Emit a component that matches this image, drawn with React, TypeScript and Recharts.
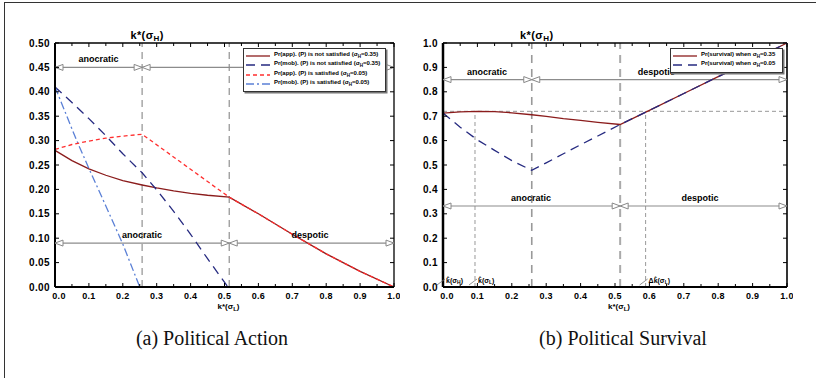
import React from 'react';
import { ComposedChart, Line, XAxis, YAxis, ReferenceLine, ReferenceDot, Legend } from 'recharts';

type Pt = [number, number];

// (a) Political Action: probabilities against k*(σL)
const appNotSatisfied: Pt[] = [
  [0, 0.28], [0.05, 0.259], [0.1, 0.242], [0.15, 0.229], [0.2, 0.218], [0.257, 0.209],
  [0.3, 0.203], [0.35, 0.197], [0.4, 0.192], [0.45, 0.188], [0.514, 0.184],
  [0.6, 0.15], [0.7, 0.108], [0.8, 0.068], [0.9, 0.032], [1, 0],
];
const mobNotSatisfied: Pt[] = [
  [0, 0.41], [0.05, 0.378], [0.1, 0.345], [0.15, 0.31], [0.2, 0.273], [0.257, 0.234],
  [0.3, 0.199], [0.35, 0.155], [0.4, 0.108], [0.45, 0.058], [0.51, 0], [1, 0],
];
const appSatisfied: Pt[] = [
  [0, 0.282], [0.05, 0.292], [0.1, 0.299], [0.15, 0.305], [0.2, 0.309], [0.257, 0.313],
  [0.514, 0.184], [0.6, 0.15], [0.7, 0.108], [0.8, 0.068], [0.9, 0.032], [1, 0],
];
const mobSatisfied: Pt[] = [
  [0, 0.41], [0.064, 0.3], [0.1, 0.243], [0.15, 0.166], [0.2, 0.088], [0.25, 0], [1, 0],
];

// (b) Political Survival
const survivalHigh: Pt[] = [
  [0, 0.713], [0.05, 0.718], [0.1, 0.72], [0.15, 0.719], [0.2, 0.714], [0.258, 0.706],
  [0.3, 0.699], [0.35, 0.69], [0.4, 0.683], [0.45, 0.675], [0.515, 0.666],
  [0.6, 0.724], [0.7, 0.793], [0.8, 0.862], [0.9, 0.931], [1, 1],
];
const survivalLow: Pt[] = [
  [0, 0.713], [0.05, 0.655], [0.1, 0.603], [0.15, 0.56], [0.2, 0.518], [0.258, 0.478],
  [0.3, 0.509], [0.35, 0.546], [0.4, 0.583], [0.45, 0.619], [0.515, 0.666],
  [0.6, 0.724], [0.7, 0.793], [0.8, 0.862], [0.9, 0.931], [1, 1],
];

const kTicks = [0, 0.05, 0.1, 0.15, 0.2, 0.25, 0.3, 0.35, 0.4, 0.45, 0.5, 0.55, 0.6, 0.65, 0.7, 0.75, 0.8, 0.85, 0.9, 0.95, 1];
const actionTicks = [0, 0.05, 0.1, 0.15, 0.2, 0.25, 0.3, 0.35, 0.4, 0.45, 0.5];
const survivalTicks = [0, 0.1, 0.2, 0.3, 0.4, 0.5, 0.6, 0.7, 0.8, 0.9, 1];

// thresholds
const actionKH = 0.257;
const actionKL = 0.514;
const survKH = 0.258;
const survKL = 0.515;
const survKHatL = 0.093;
const survDeltaK = 0.589;
const survBar = 0.72;

const actionArrows = [
  { y: 0.45, from: 0, to: actionKH, label: 'anocratic', at: 0.128 },
  { y: 0.45, from: actionKH, to: 1, label: '', at: 0 },
  { y: 0.09, from: 0, to: actionKL, label: 'anocratic', at: 0.257 },
  { y: 0.09, from: actionKL, to: 1, label: 'despotic', at: 0.752 },
];
const survivalArrows = [
  { y: 0.85, from: 0, to: survKH, label: 'anocratic', at: 0.128 },
  { y: 0.85, from: survKH, to: 1, label: 'despotic', at: 0.62 },
  { y: 0.332, from: 0, to: survKL, label: 'anocratic', at: 0.256 },
  { y: 0.332, from: survKL, to: 1, label: 'despotic', at: 0.747 },
];
const survivalMarks = [
  { k: 0, text: 'k\u0302(σ', sub: 'H' },
  { k: survKHatL, text: 'k\u0302(σ', sub: 'L' },
  { k: survDeltaK, text: 'Δk\u0302(σ', sub: 'L' },
];

const actionSeries = [
  { name: 'Pr(app). (P) is not satisfied', sigma: '0.35', data: appNotSatisfied, color: '#8b1c1c', dash: undefined },
  { name: 'Pr(mob). (P) is not satisfied', sigma: '0.35', data: mobNotSatisfied, color: '#262a80', dash: '9 6' },
  { name: 'Pr(mob). (P) is satisfied', sigma: '0.05', data: mobSatisfied, color: '#5b80d6', dash: '8 3 2 3' },
  { name: 'Pr(app). (P) is satisfied', sigma: '0.05', data: appSatisfied, color: '#ff2f2f', dash: '4 3' },
];
const actionLegendOrder = [0, 1, 3, 2];
const survivalSeries = [
  { name: 'Pr(survival) when', sigma: '0.35', data: survivalHigh, color: '#8b1c1c', dash: undefined },
  { name: 'Pr(survival) when', sigma: '0.05', data: survivalLow, color: '#262a80', dash: '9 6' },
];

const FONT = '"Liberation Sans", Arial, sans-serif';
const toRows = (pts: Pt[]) => pts.map(([k, p]) => ({ k, p }));

function XTick(props: any) {
  const { x, y, payload } = props;
  const v = payload.value as number;
  const major = Math.round(v * 100) % 10 === 0;
  return (
    <g>
      <line x1={x} x2={x} y1={y} y2={y - (major ? 4 : 3)} stroke="#000" strokeWidth={1} />
      {major && (
        <text x={x + (v === 0 ? 4 : 0)} y={y + 12} textAnchor="middle" fontSize={9} fontWeight="bold" fontFamily={FONT} letterSpacing={0.3}>
          {v.toFixed(1)}
        </text>
      )}
    </g>
  );
}

function YTick(props: any) {
  const { x, y, payload, digits } = props;
  return (
    <g>
      <line x1={x} x2={x + 4} y1={y} y2={y} stroke="#000" strokeWidth={1} />
      <text x={x - 5} y={y} dy={3.5} textAnchor="end" fontSize={10} fontWeight="bold" fontFamily={FONT} letterSpacing={0.4}>
        {(payload.value as number).toFixed(digits)}
      </text>
    </g>
  );
}

function KStarTop(props: any) {
  const { x, y } = props.viewBox;
  return (
    <text x={x + 5} y={y - 4} textAnchor="middle" fontSize={11} fontWeight="bold" fontFamily={FONT} letterSpacing={0.4}>
      k*(σ<tspan fontSize={8} dy={2}>H</tspan><tspan dy={-2}>)</tspan>
    </text>
  );
}

function KStarBottom(props: any) {
  const { x, y, width } = props.viewBox;
  return (
    <text x={x + width / 2 + 4} y={y + 22} textAnchor="middle" fontSize={8} fontWeight="bold" fontFamily={FONT}>
      k*(σ<tspan fontSize={6} dy={1.5}>L</tspan><tspan dy={-1.5}>)</tspan>
    </text>
  );
}

const arrowHead = (dir: number) => (p: any) => (
  <path
    d={`M${p.cx},${p.cy} L${p.cx - dir * 8},${p.cy - 3} L${p.cx - dir * 8},${p.cy + 3} Z`}
    fill="#fff"
    stroke="#888"
    strokeWidth={1}
  />
);

const regimeText = (label: string) => (p: any) => (
  <text x={p.cx} y={p.cy - 5} textAnchor="middle" fontSize={9} fontWeight="bold" fontFamily={FONT}>
    {label}
  </text>
);

function renderArrows(arrows: typeof actionArrows, id: string) {
  return arrows.flatMap((a, i) => {
    const out = [
      <ReferenceLine key={`${id}s${i}`} segment={[{ x: a.from, y: a.y }, { x: a.to, y: a.y }]} stroke="#8c8c8c" strokeWidth={1.2} />,
      <ReferenceDot key={`${id}l${i}`} x={a.from} y={a.y} r={0} shape={arrowHead(-1)} />,
      <ReferenceDot key={`${id}r${i}`} x={a.to} y={a.y} r={0} shape={arrowHead(1)} />,
    ];
    if (a.label) out.push(<ReferenceDot key={`${id}t${i}`} x={a.at} y={a.y} r={0} shape={regimeText(a.label)} />);
    return out;
  });
}

// top and right edges of the frame, drawn as plain lines along the domain edges,
// with the inward tick marks as their dots
function renderFrame(yMax: number, yTicks: number[], rightWidth: number, id: string) {
  const topRows = kTicks.map((k) => ({ k, p: yMax }));
  const rightRows = yTicks.map((t) => ({ k: 1, p: t }));
  return [
    <Line
      key={`${id}top`}
      data={topRows}
      dataKey="p"
      type="linear"
      stroke="#000"
      strokeWidth={1.4}
      legendType="none"
      activeDot={false}
      isAnimationActive={false}
      dot={(p: any) => (
        <line
          key={`${id}td${p.index}`}
          x1={p.cx}
          x2={p.cx}
          y1={p.cy}
          y2={p.cy + (Math.round((p.payload.k as number) * 100) % 10 === 0 ? 4 : 3)}
          stroke="#000"
          strokeWidth={1}
        />
      )}
    />,
    <Line
      key={`${id}right`}
      data={rightRows}
      dataKey="p"
      type="linear"
      stroke="#000"
      strokeWidth={rightWidth}
      legendType="none"
      activeDot={false}
      isAnimationActive={false}
      dot={(p: any) => (
        <line key={`${id}rd${p.index}`} x1={p.cx} x2={p.cx - 4} y1={p.cy} y2={p.cy} stroke="#000" strokeWidth={1} />
      )}
    />,
  ];
}

function LegendBox({ series, order, width }: { series: typeof actionSeries; order: number[]; width: number }) {
  return (
    <div
      style={{
        width,
        border: '1px solid #333',
        boxShadow: '1.5px 1.5px 0 #777',
        background: '#fff',
        padding: '2px 2px',
        boxSizing: 'border-box',
        fontFamily: FONT,
        fontWeight: 'bold',
        fontSize: 6,
        lineHeight: '7.3px',
      }}
    >
      {order.map((idx) => {
        const s = series[idx];
        const survival = s.name.startsWith('Pr(survival)');
        return (
          <div key={idx} style={{ display: 'flex', alignItems: 'center', whiteSpace: 'nowrap' }}>
            <svg width={24} height={6} style={{ flex: 'none', marginRight: 4 }}>
              <line x1={0} x2={24} y1={3} y2={3} stroke={s.color} strokeWidth={1.3} strokeDasharray={s.dash} />
            </svg>
            <span>
              {s.name} {survival ? '' : '('}σ<sub style={{ fontSize: 4.5 }}>H</sub>={s.sigma}
              {survival ? '' : ')'}
            </span>
          </div>
        );
      })}
    </div>
  );
}

function ActionChart() {
  return (
    <ComposedChart width={400} height={320} margin={{ top: 43, right: 6, bottom: 0, left: 0 }}>
      <XAxis
        dataKey="k" type="number" domain={[0, 1]} ticks={kTicks} interval={0} height={33}
        tickSize={0} tickMargin={0} tickLine={false}
        axisLine={{ stroke: '#000', strokeWidth: 2 }}
        tick={(p: any) => <XTick {...p} />}
        label={(p: any) => <KStarBottom {...p} />}
      />
      <YAxis
        type="number" domain={[0, 0.5]} ticks={actionTicks} interval={0} width={55}
        tickSize={0} tickMargin={0} tickLine={false}
        axisLine={{ stroke: '#000', strokeWidth: 2 }}
        tick={(p: any) => <YTick {...p} digits={2} />}
      />
      <ReferenceLine x={actionKH} stroke="#999" strokeWidth={1.3} strokeDasharray="7 5" label={(p: any) => <KStarTop {...p} />} />
      <ReferenceLine x={actionKL} stroke="#999" strokeWidth={1.3} strokeDasharray="7 5" />
      {renderArrows(actionArrows, 'a')}
      {renderFrame(0.5, actionTicks, 1.3, 'a')}
      {actionSeries.map((s) => (
        <Line
          key={s.name + s.sigma}
          data={toRows(s.data)}
          dataKey="p"
          type="linear"
          stroke={s.color}
          strokeWidth={1.3}
          strokeDasharray={s.dash}
          dot={false}
          activeDot={false}
          isAnimationActive={false}
        />
      ))}
      <Legend
        layout="vertical" align="center" verticalAlign="middle"
        wrapperStyle={{ top: 48, left: 243, width: 143 }}
        content={() => <LegendBox series={actionSeries} order={actionLegendOrder} width={143} />}
      />
    </ComposedChart>
  );
}

function SurvivalChart() {
  return (
    <ComposedChart width={393} height={320} margin={{ top: 43, right: 6, bottom: 0, left: 0 }}>
      <XAxis
        dataKey="k" type="number" domain={[0, 1]} ticks={kTicks} interval={0} height={33}
        tickSize={0} tickMargin={0} tickLine={false}
        axisLine={{ stroke: '#000', strokeWidth: 2 }}
        tick={(p: any) => <XTick {...p} />}
        label={(p: any) => <KStarBottom {...p} />}
      />
      <YAxis
        type="number" domain={[0, 1]} ticks={survivalTicks} interval={0} width={43}
        tickSize={0} tickMargin={0} tickLine={false}
        axisLine={{ stroke: '#000', strokeWidth: 2.5 }}
        tick={(p: any) => <YTick {...p} digits={1} />}
      />
      <ReferenceLine y={survBar} stroke="#999" strokeWidth={1} strokeDasharray="4 3" />
      <ReferenceLine segment={[{ x: survKHatL, y: 0 }, { x: survKHatL, y: survBar }]} stroke="#999" strokeWidth={1} strokeDasharray="4 3" />
      <ReferenceLine segment={[{ x: survDeltaK, y: 0 }, { x: survDeltaK, y: survBar }]} stroke="#999" strokeWidth={1} strokeDasharray="4 3" />
      <ReferenceLine x={survKH} stroke="#999" strokeWidth={1.6} strokeDasharray="8 6" label={(p: any) => <KStarTop {...p} />} />
      <ReferenceLine x={survKL} stroke="#aaa" strokeWidth={2} strokeDasharray="8 6" />
      {renderArrows(survivalArrows, 'b')}
      {survivalMarks.map((m) => (
        <ReferenceDot
          key={m.text + m.k}
          x={m.k}
          y={0}
          r={0}
          shape={(p: any) => (
            <g>
              <line x1={p.cx - 6} y1={p.cy - 2} x2={p.cx + 2} y2={p.cy - 8} stroke="#777" strokeWidth={0.8} />
              <text x={p.cx + 3} y={p.cy - 4} fontSize={7} fontWeight="bold" fontFamily={FONT}>
                {m.text}<tspan fontSize={5} dy={1}>{m.sub}</tspan><tspan dy={-1}>)</tspan>
              </text>
            </g>
          )}
        />
      ))}
      {renderFrame(1, survivalTicks, 1.6, 'b')}
      {survivalSeries.map((s) => (
        <Line
          key={s.name + s.sigma}
          data={toRows(s.data)}
          dataKey="p"
          type="linear"
          stroke={s.color}
          strokeWidth={1.3}
          strokeDasharray={s.dash}
          dot={false}
          activeDot={false}
          isAnimationActive={false}
        />
      ))}
      <Legend
        layout="vertical" align="center" verticalAlign="middle"
        wrapperStyle={{ top: 48, left: 270, width: 113 }}
        content={() => <LegendBox series={survivalSeries} order={[0, 1]} width={113} />}
      />
    </ComposedChart>
  );
}

export default function App() {
  const caption: React.CSSProperties = {
    position: 'absolute',
    top: 328,
    width: 300,
    textAlign: 'center',
    fontFamily: '"Liberation Serif", "Times New Roman", serif',
    fontSize: 20,
    lineHeight: '20px',
    color: '#111',
  };
  return (
    <div style={{ position: 'absolute', left: 0, top: 0, width: 816, height: 378, background: '#fff', overflow: 'hidden' }}>
      <div style={{ position: 'absolute', left: 4, top: 2, width: 900, height: 400, borderLeft: '1.5px solid #333', borderTop: '1.5px solid #333' }} />
      <div style={{ position: 'absolute', left: 0, top: 0 }}>
        <ActionChart />
      </div>
      <div style={{ position: 'absolute', left: 400, top: 0 }}>
        <SurvivalChart />
      </div>
      <div style={{ ...caption, left: 62 }}>(a) Political Action</div>
      <div style={{ ...caption, left: 473 }}>(b) Political Survival</div>
    </div>
  );
}
